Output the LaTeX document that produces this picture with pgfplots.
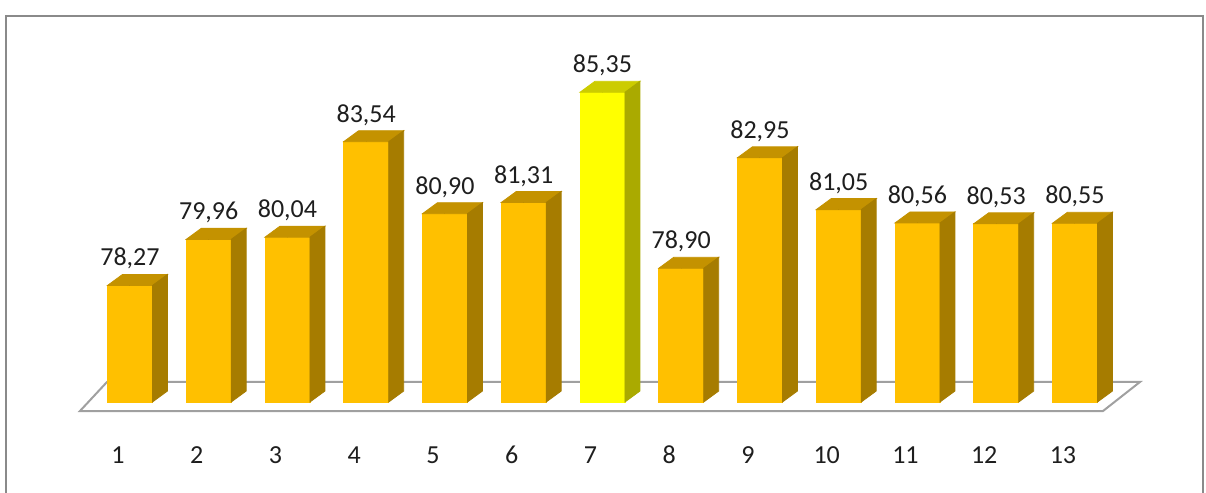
\documentclass[border=0pt]{standalone}
\usepackage{pgfplots}
\pgfplotsset{compat=1.18}
\usepackage{pgfplotstable}
\usepackage{fontspec}
\setmainfont{Carlito}

\definecolor{barfront}{RGB}{255,192,0}
\definecolor{bartop}{RGB}{196,146,0}
\definecolor{barside}{RGB}{166,124,0}
\definecolor{hifront}{RGB}{255,255,0}
\definecolor{hitop}{RGB}{204,204,0}
\definecolor{hiside}{RGB}{170,170,0}
\definecolor{framegray}{RGB}{138,138,138}
\definecolor{floorgray}{RGB}{160,160,160}
\definecolor{txt}{RGB}{30,30,30}

% values per station
\pgfplotstableread{
x v
1 78.27
2 79.96
3 80.04
4 83.54
5 80.90
6 81.31
8 78.90
9 82.95
10 81.05
11 80.56
12 80.53
13 80.55
}\mainbars
\pgfplotstableread{
x v
7 85.35
}\topbar

% front, top and side face of a 3d bar, drawn at the bar top
\newcommand{\barfaces}[3]{%
  \pgfmathsetmacro\hh{(\rawy-74)*13.645}%
  \pgfmathsetmacro\hs{\hh-5.5}%
  \fill[#1] (-11.25pt,-\hh pt) rectangle (11.25pt,0pt);
  \fill[#2] (-11.25pt,0pt) -- (11.25pt,0pt) -- (18.75pt,5.5pt) -- (-3.75pt,5.5pt) -- cycle;
  \fill[#3] (11.25pt,0pt) -- (18.75pt,5.5pt) -- (18.75pt,-\hs pt) -- (11.25pt,-\hh pt) -- cycle;
}
\newcommand\lblfont{\fontsize{13}{15}\selectfont}

\pgfplotsset{
  bars3d/.style n args={3}{
    scatter, only marks, mark=*, mark size=0pt,
    point meta=explicit,
    visualization depends on={\thisrow{v} \as \rawy},
    scatter/@pre marker code/.code={\barfaces{#1}{#2}{#3}},
    scatter/@post marker code/.code={},
  },
  barlabels/.style={
    scatter, only marks, mark=*, mark size=0pt,
    mark options={draw=none, fill=none},
    point meta=explicit,
    nodes near coords={\pgfmathprintnumber[fixed, fixed zerofill, precision=2, use comma]{\pgfplotspointmeta}},
    every node near coord/.append style={anchor=base, yshift=9.75pt, font=\lblfont, text=txt},
  },
}

\begin{document}
\begin{tikzpicture}
\useasboundingbox (-39pt,-45.5pt) rectangle (564pt,201pt);
\begin{axis}[
    at={(0,0)}, anchor=south west,
    x=39.375pt, y=13.645pt,
    xmin=0.34, xmax=13.356, ymin=74, ymax=88.14,
    clip=false,
    axis line style={draw=none},
    tick style={draw=none},
    major tick length=0pt,
    ytick=\empty,
    xtick={1,...,13},
    xticklabel style={anchor=base, yshift=-30.5pt, xshift=-6pt, font=\lblfont, text=txt},
    /pgf/number format/assume math mode=true,
]
% floor
\addplot[fill=white, draw=floorgray, line width=1pt] coordinates {
(0.365,73.67) (13.356,73.67) (13.825,74.733) (0.708,74.733)
} -- cycle;
\addplot[bars3d={barfront}{bartop}{barside}] table[x=x, y=v, meta=v] {\mainbars};
\addplot[bars3d={hifront}{hitop}{hiside}] table[x=x, y=v, meta=v] {\topbar};
% value labels
\addplot[barlabels] table[x=x, y=v, meta=v] {\mainbars};
\addplot[barlabels] table[x=x, y=v, meta=v] {\topbar};
\end{axis}
\draw[framegray, line width=1pt] (-36pt,-45.5pt) -- (-36pt,193pt) -- (562.5pt,193pt) -- (562.5pt,-45.5pt);
\end{tikzpicture}
\end{document}
